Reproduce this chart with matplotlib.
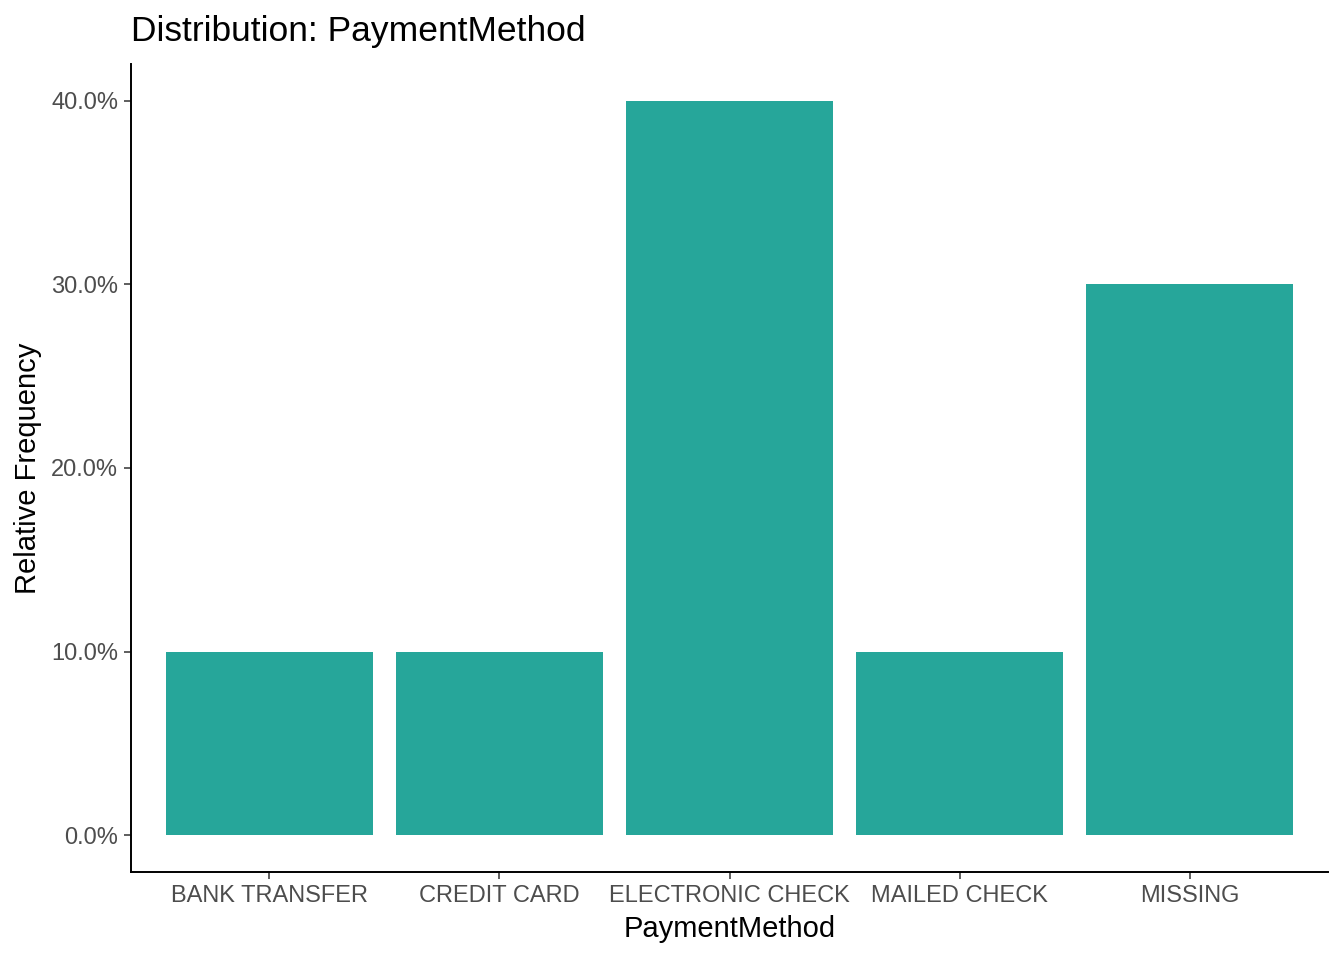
import matplotlib
matplotlib.use("Agg")
import matplotlib.pyplot as plt
from matplotlib.ticker import FuncFormatter

categories = ["BANK TRANSFER", "CREDIT CARD", "ELECTRONIC CHECK", "MAILED CHECK", "MISSING"]
values = [0.10, 0.10, 0.40, 0.10, 0.30]
yticks = [0.0, 0.1, 0.2, 0.3, 0.4]

plt.rcParams['font.family'] = ['Liberation Sans', 'DejaVu Sans']
W, H = 1344, 960
fig = plt.figure(figsize=(W/100, H/100), dpi=100)
ax = fig.add_axes([131/W, 1-872/H, (1328-131)/W, (872-64)/H])

x = list(range(1, len(categories)+1))
ax.bar(x, values, width=0.9, color="#26A69A", edgecolor="none")
ax.set_xlim(0.4, len(categories)+0.6)
ax.set_ylim(-0.02, 0.42)
ax.set_xticks(x)
ax.set_xticklabels(categories)
ax.set_yticks(yticks)
ax.yaxis.set_major_formatter(FuncFormatter(lambda v, p: f"{v*100:.1f}%"))
for s in ["top", "right"]:
    ax.spines[s].set_visible(False)
for s in ["left", "bottom"]:
    ax.spines[s].set_linewidth(1.4)
    ax.spines[s].set_color("black")
ax.tick_params(axis="both", length=5.3, width=1.1, color="#333333", labelsize=17, labelcolor="#4D4D4D", pad=4)
fig.text(28/W, 1-468/H, "Relative Frequency", rotation=90, ha="center", va="center", fontsize=21)
fig.text(730/W, 1-929/H, "PaymentMethod", ha="center", va="center", fontsize=21)
fig.text(131/W, 1-31/H, "Distribution: PaymentMethod", ha="left", va="center", fontsize=25.5)
fig.savefig("out.png", dpi=100)
